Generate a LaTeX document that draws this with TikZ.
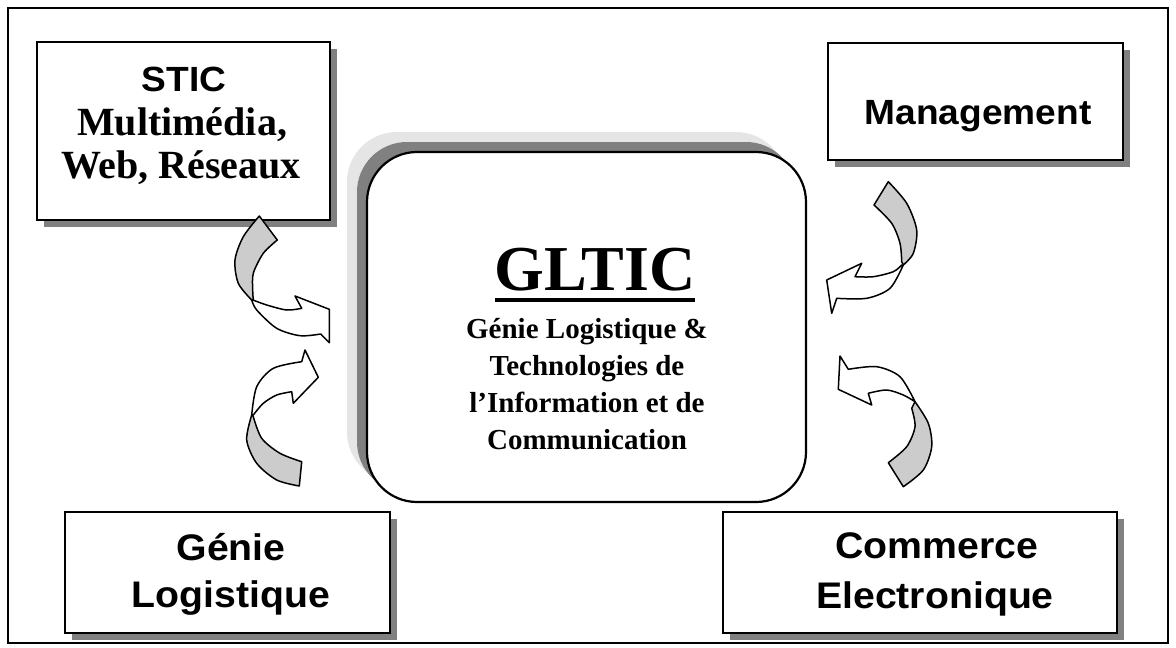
\documentclass[tikz,border=0pt]{standalone}
\usepackage{fontspec}
\setmainfont{Liberation Serif}
\newfontfamily\boxsans[FakeStretch=1.06]{Liberation Sans}
\usetikzlibrary{shadows}
\begin{document}
\begin{tikzpicture}[x=1pt,y=-1pt,
  box/.style={draw, line width=1.6pt, fill=white, inner sep=0pt,
    general shadow={shadow xshift=7pt, shadow yshift=-7pt, fill=black!50}},
  hub/.style={draw, line width=2.2pt, fill=white, inner sep=0pt, rounded corners=50pt,
    general shadow={shadow xshift=-20pt, shadow yshift=20pt, fill=black!10},
    general shadow={shadow xshift=-10pt, shadow yshift=10pt, fill=black!50}},
  sanslab/.style={anchor=base, inner sep=0pt, font=\boxsans\bfseries\fontsize{35}{40}\selectfont},
  seriflab/.style={anchor=base, inner sep=0pt, font=\bfseries\fontsize{40}{46}\selectfont},
  hublab/.style={anchor=base, inner sep=0pt, font=\bfseries\fontsize{29}{35}\selectfont},
  back/.style={draw, line width=1.5pt, fill=black!20, line join=round},
  front/.style={draw, line width=1.5pt, fill=white, line join=round}]
\useasboundingbox (0,0) rectangle (1176,648);
\fill[white] (0,0) rectangle (1176,648);
\draw[line width=1.5pt] (8,8) rectangle (1168,643);

% outer boxes
\node[box, minimum width=293, minimum height=178] (stic) at (183.5,131) {};
\node[box, minimum width=295, minimum height=117] (mgmt) at (975.5,101.5) {};
\node[box, minimum width=325, minimum height=121] (genie) at (227.5,572.5) {};
\node[box, minimum width=394, minimum height=121] (comm) at (920,572.5) {};

% central box
\node[hub, minimum width=439, minimum height=350] (hub) at (586.5,327) {};

% labels
\node[sanslab] (sticA) at (184,91) {STIC};
\node[seriflab] (sticB) at (182,135) {Multimédia,};
\node[seriflab] (sticC) at (181,178) {Web, Réseaux};
\node[sanslab] (mgmtA) at (978,124) {Management};
\node[sanslab, font=\boxsans\bfseries\fontsize{37}{40}\selectfont] (genieA) at (231,560) {Génie};
\node[sanslab, font=\boxsans\bfseries\fontsize{37}{40}\selectfont] (genieB) at (231,607) {Logistique};
\node[sanslab, font=\boxsans\bfseries\fontsize{37}{40}\selectfont] (commA) at (937,558) {Commerce};
\node[sanslab, font=\boxsans\bfseries\fontsize{37}{40}\selectfont] (commB) at (935,608) {Electronique};

\node[anchor=base, inner sep=0pt, font=\bfseries\fontsize{64}{70}\selectfont] (title) at (595,290) {GLTIC};
\draw[line width=4pt] ([yshift=-10pt]title.base west) -- ([yshift=-10pt]title.base east);
\node[hublab] (hubA) at (587,338) {Génie Logistique \&};
\node[hublab] (hubB) at (587,375) {Technologies de};
\node[hublab] (hubC) at (587,412) {l’Information et de};
\node[hublab] (hubD) at (587,449) {Communication};

% curved arrow from STIC
\draw[back] plot[smooth] coordinates {(259.3,216) (243.3,236.7) (235,260) (238.3,283.3) (251.7,300)}
  -- plot[smooth] coordinates {(253.3,300) (252.7,290) (253.3,273.3) (263.3,253.3) (277.3,240)} -- cycle;
\draw[front] plot[smooth] coordinates {(251.7,300) (256.7,310) (276.7,328.3) (300,335.7) (320.7,334)}
  -- (329.3,342.7) -- (329.3,309.3) -- (295,296) -- (301.7,308.3)
  -- plot[smooth] coordinates {(301.7,308.3) (286.7,310) (266.7,305) (253,300)} -- cycle;

% curved arrow from Génie Logistique
\draw[back] plot[smooth] coordinates {(301.7,461.7) (280,453.3) (261.7,438.3) (253.3,416.7)}
  -- plot[smooth] coordinates {(251.7,415) (246.7,440) (256.7,463.3) (276.7,480) (299.3,486)} -- cycle;
\draw[front] plot[smooth] coordinates {(251.7,415) (256.7,386.7) (273.3,368.3) (301.7,361.7)}
  -- (305,350) -- (318.3,377.3) -- (293.3,403.3) -- (291.7,391.7)
  -- plot[smooth] coordinates {(291.7,391.7) (276.7,395) (263.3,403.3) (253.3,415)} -- cycle;

% curved arrow from Management
\draw[back] plot[smooth] coordinates {(888.3,181.7) (906.7,203.3) (916.7,230) (913.3,253.3) (903.3,265)}
  -- plot[smooth] coordinates {(901.7,261.7) (900,243.3) (891.7,223.3) (874,205)} -- cycle;
\draw[front] plot[smooth] coordinates {(903.3,265) (890,288.3) (866.7,298.3) (836.7,298.3)}
  -- (831.7,313.3) -- (826.7,280) -- (861.7,263.3) -- (855,276.7)
  -- plot[smooth] coordinates {(855,276.7) (873.3,276.7) (893.3,271.7) (901.7,265)} -- cycle;

% curved arrow from Commerce Electronique
\draw[back] plot[smooth] coordinates {(903.3,486.7) (923.3,470) (931.7,446.7) (928.3,423.3) (915,401.7)}
  -- plot[smooth] coordinates {(911.7,408.3) (915,426.7) (906.7,446.7) (888.3,462.7)} -- cycle;
\draw[front] plot[smooth] coordinates {(915,401.7) (900,376.7) (876.7,366.7) (848.3,369.3)}
  -- (840,356) -- (838.3,389.3) -- (871.7,405) -- (868.3,393.3)
  -- plot[smooth] coordinates {(868.3,393.3) (886.7,390) (903.3,395) (915,401.7)} -- cycle;
\end{tikzpicture}
\end{document}
